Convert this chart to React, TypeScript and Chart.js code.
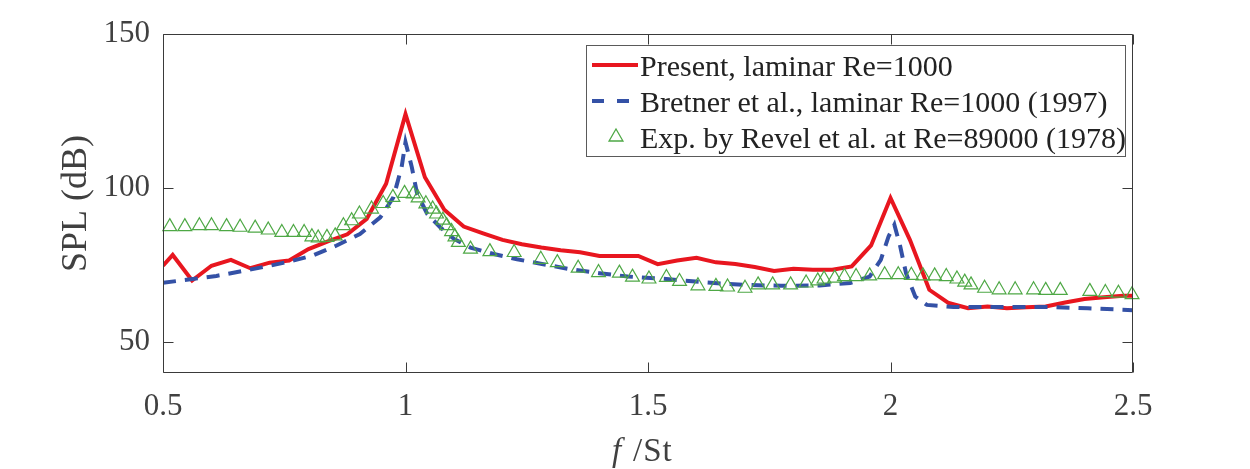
import React, { useEffect, useRef } from "react";
import { Chart, registerables } from "chart.js";

Chart.register(...registerables);

// ---- Data ----
const xTickValues = [0.5, 1, 1.5, 2, 2.5];
const yTickValues = [50, 100, 150];

const presentF = [
  0.5, 0.52, 0.56, 0.6, 0.64, 0.68, 0.72, 0.76, 0.8, 0.84, 0.88, 0.92, 0.96, 1.0,
  1.04, 1.08, 1.12, 1.16, 1.2, 1.24, 1.28, 1.32, 1.36, 1.4, 1.44, 1.48,
  1.52, 1.56, 1.6, 1.64, 1.68, 1.72, 1.76, 1.8, 1.84, 1.88, 1.92, 1.96, 2.0,
  2.04, 2.08, 2.12, 2.16, 2.2, 2.24, 2.28, 2.32, 2.36, 2.4, 2.44, 2.48, 2.5,
];
const presentSPL = [
  74.8, 78.3, 70.0, 74.8, 76.7, 74.0, 75.8, 76.5, 80.2, 82.7, 85.0, 90.0, 101.4, 124.0,
  103.5, 93.0, 87.5, 85.3, 83.2, 81.8, 80.7, 79.8, 79.2, 78.0, 78.0, 78.0,
  75.3, 76.5, 77.4, 75.9, 75.4, 74.4, 73.1, 73.8, 73.5, 73.5, 74.6, 81.4, 96.8,
  83.2, 67.0, 62.7, 61.0, 61.6, 61.0, 61.3, 61.6, 62.9, 64.0, 64.6, 65.1, 65.1,
];

const bretnerF = [
  0.5, 0.557, 0.61, 0.665, 0.72, 0.762, 0.81, 0.857, 0.906, 0.948, 0.975, 0.992, 1.0,
  1.013, 1.024, 1.045, 1.072, 1.1, 1.134, 1.182, 1.23, 1.284, 1.339, 1.4, 1.458,
  1.538, 1.617, 1.696, 1.775, 1.854, 1.917, 1.957, 1.98, 1.996, 2.008, 2.02, 2.032,
  2.051, 2.075, 2.13, 2.25, 2.33, 2.407, 2.5,
];
const bretnerSPL = [
  69.3, 70.4, 71.5, 73.1, 74.8, 76.2, 78.2, 81.3, 85.1, 90.5, 97.0, 106.8, 114.9,
  106.8, 98.1, 91.6, 87.2, 83.5, 80.7, 78.6, 76.9, 75.3, 73.7, 72.4, 71.3,
  70.5, 69.4, 68.6, 68.3, 68.4, 69.2, 71.3, 76.7, 84.3, 88.1, 81.1, 72.4,
  64.8, 62.1, 61.4, 61.4, 61.4, 61.0, 60.4,
];

const revelF = [
  0.514, 0.545, 0.575, 0.6, 0.631, 0.659, 0.69, 0.717, 0.745, 0.769,
  0.791, 0.807, 0.82, 0.838, 0.855, 0.872, 0.889, 0.905, 0.93, 0.954,
  0.974, 0.998, 1.016, 1.026, 1.042, 1.056, 1.064, 1.077, 1.085, 1.095,
  1.102, 1.109, 1.134, 1.174, 1.224, 1.279, 1.313, 1.356, 1.398, 1.441,
  1.468, 1.502, 1.538, 1.565, 1.603, 1.64, 1.664, 1.7, 1.727, 1.757,
  1.794, 1.826, 1.85, 1.863, 1.885, 1.905, 1.929, 1.957, 1.988, 2.016,
  2.043, 2.067, 2.091, 2.115, 2.137, 2.153, 2.166, 2.194, 2.224, 2.257,
  2.295, 2.32, 2.35, 2.411, 2.443, 2.47, 2.498,
];
const revelSPL = [
  87.5, 87.5, 87.8, 87.8, 87.5, 87.3, 87.0, 86.4, 85.6, 85.6,
  85.6, 84.2, 83.8, 84.0, 84.5, 87.8, 89.4, 91.6, 93.2, 95.0,
  97.0, 98.3, 98.1, 96.8, 94.9, 93.2, 91.6, 89.6, 87.8, 85.9,
  84.2, 82.4, 80.2, 79.4, 79.1, 76.9, 75.8, 74.0, 72.6, 72.4,
  71.1, 70.5, 71.0, 69.7, 68.3, 68.1, 67.9, 67.5, 68.6, 68.6,
  68.6, 69.2, 69.9, 70.5, 70.8, 71.3, 71.3, 71.5, 71.9, 71.9,
  71.7, 71.5, 71.5, 71.3, 70.5, 69.5, 68.6, 67.5, 67.0, 67.0,
  67.0, 66.8, 66.8, 66.5, 66.1, 65.9, 65.4,
];

const seriesLabels = [
  "Present, laminar Re=1000",
  "Bretner et al., laminar Re=1000 (1997)",
  "Exp. by Revel et al. at Re=89000 (1978)",
];

const RED = "#e8161f";
const BLUE = "#3451a6";
const GREEN = "#4ea845";
const AXIS = "#3a3a3a";
const TEXT = "#404040";
const FONT = "'Liberation Serif', 'Times New Roman', serif";

const toPoints = (xs: number[], ys: number[]) => xs.map((x, i) => ({ x, y: ys[i] }));

const framePlugin = {
  id: "frameAndLegend",
  afterDatasetsDraw(chart: any) {
    const { ctx, chartArea } = chart;
    const { left, right, top, bottom } = chartArea;
    const xs = chart.scales.x;
    const ys = chart.scales.y;
    ctx.save();
    // axes box
    ctx.strokeStyle = AXIS;
    ctx.lineWidth = 1;
    ctx.setLineDash([]);
    const L = Math.round(left) + 0.5, R = Math.round(right) - 0.5;
    const T = Math.round(top) + 0.5, B = Math.round(bottom) - 0.5;
    ctx.beginPath();
    ctx.rect(L, T, R - L, B - T);
    ctx.stroke();
    // inward ticks
    const tl = 10;
    ctx.beginPath();
    xTickValues.forEach((v) => {
      const px = Math.round(xs.getPixelForValue(v)) + 0.5;
      ctx.moveTo(px, B); ctx.lineTo(px, B - tl);
      ctx.moveTo(px, T); ctx.lineTo(px, T + tl);
    });
    yTickValues.forEach((v) => {
      const py = Math.round(ys.getPixelForValue(v)) + 0.5;
      ctx.moveTo(L, py); ctx.lineTo(L + tl, py);
      ctx.moveTo(R, py); ctx.lineTo(R - tl, py);
    });
    ctx.stroke();

    // legend
    const lx = 586, ly = 45, lw = 539, lh = 111;
    ctx.fillStyle = "#ffffff";
    ctx.fillRect(lx, ly, lw, lh);
    ctx.strokeStyle = "#5a5a5a";
    ctx.lineWidth = 1;
    ctx.strokeRect(lx + 0.5, ly + 0.5, lw, lh);
    const rows = [65, 101, 136];
    const textX = 640;
    ctx.font = `30px ${FONT}`;
    ctx.fillStyle = "#222222";
    ctx.textAlign = "left";
    ctx.textBaseline = "alphabetic";
    const baselines = [75.5, 112, 148];
    // red sample
    ctx.strokeStyle = RED;
    ctx.lineWidth = 4;
    ctx.beginPath();
    ctx.moveTo(592, rows[0]); ctx.lineTo(638, rows[0]);
    ctx.stroke();
    // blue sample
    ctx.strokeStyle = BLUE;
    ctx.setLineDash([12, 13]);
    ctx.beginPath();
    ctx.moveTo(592, rows[1]); ctx.lineTo(638, rows[1]);
    ctx.stroke();
    ctx.setLineDash([]);
    // green triangle
    ctx.strokeStyle = GREEN;
    ctx.lineWidth = 1.3;
    const r = 8, cx = 616, cy = rows[2] + 1;
    ctx.beginPath();
    ctx.moveTo(cx, cy - r);
    ctx.lineTo(cx + r * 0.866, cy + r / 2);
    ctx.lineTo(cx - r * 0.866, cy + r / 2);
    ctx.closePath();
    ctx.stroke();
    seriesLabels.forEach((s, i) => ctx.fillText(s, textX, baselines[i]));

    // x-axis title: italic f + "/St"
    ctx.fillStyle = TEXT;
    const fs = 33;
    const cxT = (left + right) / 2 - 2;
    const by = 461;
    ctx.font = `italic ${fs}px ${FONT}`;
    ctx.fillText("f", cxT - 34, by);
    ctx.font = `${fs}px ${FONT}`;
    try { (ctx as any).letterSpacing = "1px"; } catch (e) {}
    ctx.fillText("/St", cxT - 13, by);
    try { (ctx as any).letterSpacing = "0px"; } catch (e) {}
    ctx.restore();
  },
};

export default function App() {
  const ref = useRef<HTMLCanvasElement | null>(null);
  useEffect(() => {
    if (!ref.current) return;
    const chart = new Chart(ref.current, {
      type: "scatter",
      data: {
        datasets: [
          {
            label: seriesLabels[0],
            data: toPoints(presentF, presentSPL),
            showLine: true,
            borderColor: RED,
            backgroundColor: RED,
            borderWidth: 4,
            pointRadius: 0,
            tension: 0,
            order: 3,
          },
          {
            label: seriesLabels[1],
            data: toPoints(bretnerF, bretnerSPL),
            showLine: true,
            borderColor: BLUE,
            backgroundColor: BLUE,
            borderWidth: 4,
            borderDash: [13, 9],
            pointRadius: 0,
            tension: 0,
            order: 2,
          },
          {
            label: seriesLabels[2],
            data: toPoints(revelF, revelSPL),
            showLine: false,
            borderColor: GREEN,
            backgroundColor: "rgba(0,0,0,0)",
            pointStyle: "triangle",
            pointRadius: 8,
            pointBorderWidth: 1.2,
            borderWidth: 1.2,
            clip: false,
            order: 1,
          } as any,
        ],
      },
      options: {
        animation: false,
        responsive: false,
        devicePixelRatio: 1,
        layout: { padding: { top: 34, right: 117, left: 0, bottom: 0 } },
        plugins: {
          legend: { display: false },
          tooltip: { enabled: false },
        },
        scales: {
          x: {
            type: "linear",
            min: 0.5,
            max: 2.5,
            afterBuildTicks: (s: any) => {
              s.ticks = xTickValues.map((v) => ({ value: v }));
            },
            afterFit: (s: any) => {
              s.height = 96;
            },
            grid: { display: false, drawTicks: false },
            border: { display: false },
            ticks: {
              autoSkip: false,
              maxRotation: 0,
              padding: 15,
              color: TEXT,
              font: { family: FONT, size: 31 },
              callback: (v: any) => String(v),
            },
          },
          y: {
            type: "linear",
            min: 40,
            max: 150,
            afterBuildTicks: (s: any) => {
              s.ticks = yTickValues.map((v) => ({ value: v }));
            },
            afterFit: (s: any) => {
              s.width = 163;
            },
            grid: { display: false, drawTicks: false },
            border: { display: false },
            ticks: {
              padding: 13,
              color: TEXT,
              font: { family: FONT, size: 31 },
              callback: (v: any) => String(v),
            },
            title: {
              display: true,
              text: "SPL (dB)",
              color: TEXT,
              font: { family: FONT, size: 36 },
              padding: { top: 55, bottom: 0 },
            },
          },
        },
      },
      plugins: [framePlugin],
    } as any);
    return () => chart.destroy();
  }, []);
  return (
    <div
      style={{
        position: "fixed",
        left: 0,
        top: 0,
        width: 1250,
        height: 469,
        background: "#ffffff",
      }}
    >
      <canvas
        ref={ref}
        width={1250}
        height={469}
        style={{ width: 1250, height: 469, display: "block" }}
      />
    </div>
  );
}
